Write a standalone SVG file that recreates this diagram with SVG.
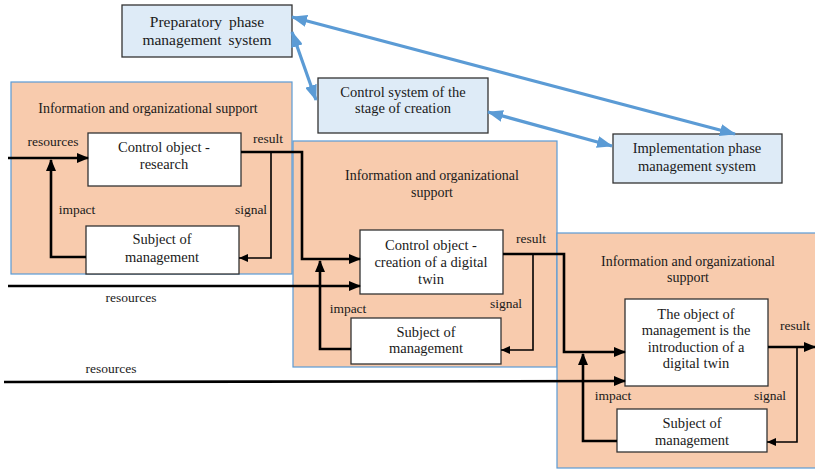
<svg xmlns="http://www.w3.org/2000/svg" width="815" height="470" viewBox="0 0 815 470" font-family="'Liberation Serif', 'DejaVu Serif', serif">
<style>
text{font-family:'Liberation Serif','DejaVu Serif',serif;fill:#1a1a1a;text-anchor:middle}
.t{font-size:14.5px}
.h{font-size:14px}
.p{font-size:15.5px;word-spacing:3px}
.l{font-size:13.5px}
.sys{fill:#DEEBF7;stroke:#333;stroke-width:1.3}
.sup{fill:#F8CBAD;stroke:#5B9BD5;stroke-width:1.2}
.box{fill:#fff;stroke:#333;stroke-width:1.3}
.m{fill:none;stroke:#000;stroke-width:2.6;stroke-linejoin:miter}
.s{fill:none;stroke:#000;stroke-width:1.6}
.b{fill:none;stroke:#5B9BD5;stroke-width:3.2}
</style>
<defs>
<marker id="ah" markerUnits="userSpaceOnUse" markerWidth="12" markerHeight="10" refX="11" refY="5" orient="auto"><path d="M0,0L12,5L0,10z" fill="#000"/></marker>
<marker id="as" markerUnits="userSpaceOnUse" markerWidth="9" markerHeight="8" refX="9" refY="4" orient="auto"><path d="M0,0L9,4L0,8z" fill="#000"/></marker>
<marker id="bh" markerUnits="userSpaceOnUse" markerWidth="16" markerHeight="12" refX="15" refY="6" orient="auto-start-reverse"><path d="M0,0L16,6L0,12z" fill="#5B9BD5"/></marker>
</defs>

<g id="support1"><rect class="sup" x="11" y="82" width="281" height="192"/><text class="h" x="148" y="113">Information and organizational support</text></g>
<g id="support2"><rect class="sup" x="293" y="141" width="264" height="226"/><text class="h" x="432" y="180">Information and organizational</text><text class="h" x="432" y="197">support</text></g>
<g id="support3"><rect class="sup" x="557" y="233" width="270" height="235"/><text class="h" x="688" y="266">Information and organizational</text><text class="h" x="688" y="282">support</text></g>

<g id="prep"><rect class="sys" x="122" y="5" width="170" height="52"/><text class="p" x="207" y="27">Preparatory phase</text><text class="p" x="207" y="45">management system</text></g>
<g id="creation"><rect class="sys" x="318" y="78" width="170" height="55"/><text class="t" x="403" y="97">Control system of the</text><text class="t" x="403" y="113">stage of creation</text></g>
<g id="impl"><rect class="sys" x="613" y="134" width="169" height="49"/><text class="t" x="697" y="153">Implementation phase</text><text class="t" x="697" y="171">management system</text></g>

<g id="obj1"><rect class="box" x="88" y="133" width="153" height="53"/><text class="t" x="164" y="152">Control object -</text><text class="t" x="164" y="169">research</text></g>
<g id="subj1"><rect class="box" x="86" y="226" width="153" height="48"/><text class="t" x="162" y="244">Subject of</text><text class="t" x="162" y="262">management</text></g>
<g id="obj2"><rect class="box" x="360" y="230" width="143" height="64"/><text class="t" x="431" y="250">Control object -</text><text class="t" x="431" y="267">creation of a digital</text><text class="t" x="431" y="284">twin</text></g>
<g id="subj2"><rect class="box" x="351" y="318" width="150" height="46"/><text class="t" x="426" y="337">Subject of</text><text class="t" x="426" y="353">management</text></g>
<g id="obj3"><rect class="box" x="625" y="299" width="143" height="87"/><text class="t" x="696" y="319">The object of</text><text class="t" x="696" y="335">management is the</text><text class="t" x="696" y="352">introduction of a</text><text class="t" x="696" y="368">digital twin</text></g>
<g id="subj3"><rect class="box" x="617" y="409" width="150" height="43"/><text class="t" x="692" y="428">Subject of</text><text class="t" x="692" y="445">management</text></g>

<g id="connectors">
<path class="b" d="M292,17L735,134" marker-start="url(#bh)" marker-end="url(#bh)"/>
<path class="b" d="M292,32L316,100" marker-start="url(#bh)" marker-end="url(#bh)"/>
<path class="b" d="M488,112L612,146" marker-start="url(#bh)" marker-end="url(#bh)"/>

<path class="m" d="M8,158H88" marker-end="url(#ah)"/>
<path class="m" d="M86,257H51V160" marker-end="url(#ah)"/>
<path class="m" d="M241,152H302V259H360" marker-end="url(#ah)"/>
<path class="s" d="M271,152V258H239" marker-end="url(#as)"/>

<path class="m" d="M8,286H360" marker-end="url(#ah)"/>
<path class="m" d="M351,349H320V261" marker-end="url(#ah)"/>
<path class="m" d="M503,254H564V352H625" marker-end="url(#ah)"/>
<path class="s" d="M533,254V350H501" marker-end="url(#as)"/>

<path class="m" d="M4,382L625,381" marker-end="url(#ah)"/>
<path class="m" d="M617,441H583V354" marker-end="url(#ah)"/>
<path class="m" d="M768,347H815" marker-end="url(#ah)"/>
<path class="s" d="M797,347V442H767" marker-end="url(#as)"/>
</g>

<g id="labels">
<text class="l" x="53" y="146">resources</text>
<text class="l" x="268" y="143">result</text>
<text class="l" x="77" y="214">impact</text>
<text class="l" x="251" y="214">signal</text>
<text class="l" x="131" y="302">resources</text>
<text class="l" x="531" y="243">result</text>
<text class="l" x="348" y="313">impact</text>
<text class="l" x="506" y="308">signal</text>
<text class="l" x="111" y="373">resources</text>
<text class="l" x="795" y="330">result</text>
<text class="l" x="613" y="400">impact</text>
<text class="l" x="770" y="400">signal</text>
</g>
</svg>
